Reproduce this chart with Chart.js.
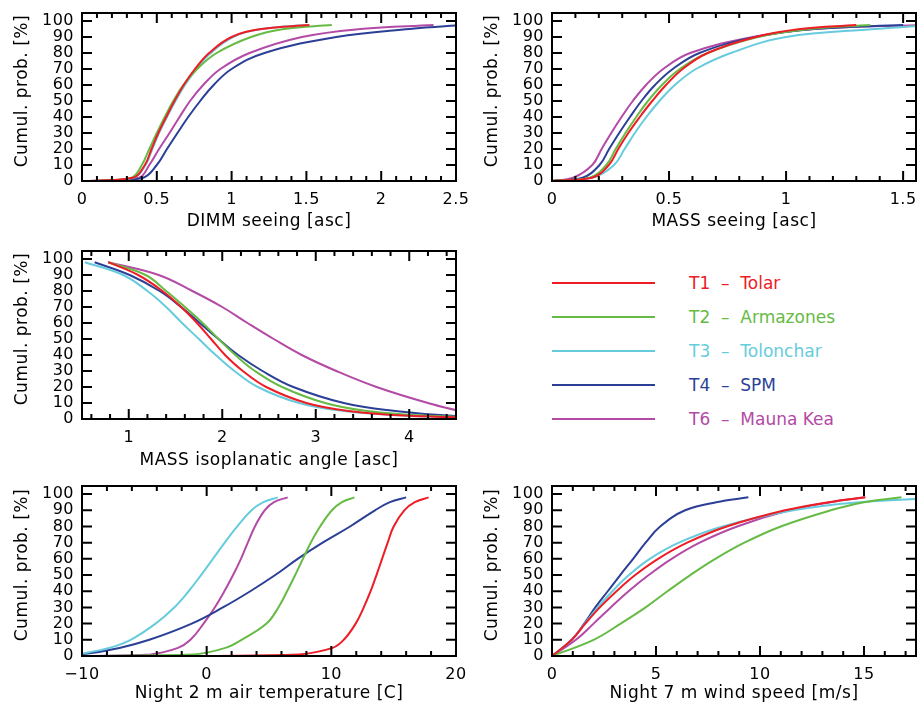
<!DOCTYPE html>
<html>
<head>
<meta charset="utf-8">
<script src="https://cdn.jsdelivr.net/npm/chart.js@4.4.1/dist/chart.umd.min.js"></script>
<style>
html,body{margin:0;padding:0;background:#fff;overflow:hidden;width:917px;height:708px;}
.pane{position:absolute;}
.leg-line{position:absolute;height:2px;}
.leg-text{position:absolute;font-family:"DejaVu Sans";font-size:17px;line-height:20px;white-space:pre;}
</style>
</head>
<body>
<div class="pane" id="p1" style="left:0;top:0;width:470px;height:236px"><canvas id="c1"></canvas></div>
<div class="pane" id="p2" style="left:470px;top:0;width:447px;height:236px"><canvas id="c2"></canvas></div>
<div class="pane" id="p3" style="left:0;top:236px;width:470px;height:236px"><canvas id="c3"></canvas></div>
<div class="pane" id="p5" style="left:0;top:472px;width:470px;height:236px"><canvas id="c5"></canvas></div>
<div class="pane" id="p6" style="left:470px;top:472px;width:447px;height:236px"><canvas id="c6"></canvas></div>
<div id="legend"></div>
<script>
// ---------- sites ----------
const siteLabels = ['T1  \u2013  Tolar', 'T2  \u2013  Armazones', 'T3  \u2013  Tolonchar', 'T4  \u2013  SPM', 'T6  \u2013  Mauna Kea'];
const siteColors = ['#ee1c25', '#66bb44', '#66ccdd', '#2b3f97', '#b34aa5'];

// ---------- y-axis ticks (cumulative probability, %) ----------
const probTicks = [0, 10, 20, 30, 40, 50, 60, 70, 80, 90, 100];

// ---------- Panel 1: DIMM seeing [asc] (x at each cumulative %) ----------
const dimmPct = [0, 2, 10, 20, 30, 40, 50, 60, 70, 80, 90, 95, 97.5];
const dimmT1 = [0.05, 0.34, 0.42, 0.465, 0.51, 0.563, 0.618, 0.68, 0.755, 0.85, 1.0, 1.2, 1.52];
const dimmT2 = [0.10, 0.33, 0.40, 0.45, 0.50, 0.553, 0.61, 0.677, 0.77, 0.90, 1.13, 1.35, 1.67];
const dimmT3 = [0.10, 0.345, 0.425, 0.47, 0.515, 0.568, 0.625, 0.688, 0.765, 0.86, 1.01, 1.2, 1.50];
const dimmT4 = [0.20, 0.41, 0.50, 0.568, 0.638, 0.71, 0.79, 0.88, 1.0, 1.22, 1.70, 2.19, 2.56];
const dimmT6 = [0.08, 0.38, 0.45, 0.515, 0.585, 0.652, 0.722, 0.81, 0.925, 1.12, 1.47, 1.86, 2.35];
const dimmTicks = [0, 0.5, 1, 1.5, 2, 2.5];

// ---------- Panel 2: MASS seeing [asc] ----------
const massPct = [0, 2, 10, 20, 30, 40, 50, 60, 70, 80, 90, 95, 97.5];
const massT1 = [0, 0.17, 0.243, 0.283, 0.326, 0.375, 0.428, 0.487, 0.558, 0.665, 0.87, 1.06, 1.30];
const massT2 = [0, 0.16, 0.232, 0.272, 0.314, 0.36, 0.41, 0.47, 0.546, 0.665, 0.88, 1.10, 1.36];
const massT3 = [0, 0.17, 0.265, 0.31, 0.354, 0.403, 0.459, 0.525, 0.615, 0.764, 1.0, 1.38, 1.62];
const massT4 = [0, 0.13, 0.203, 0.244, 0.287, 0.333, 0.382, 0.44, 0.516, 0.63, 0.87, 1.12, 1.50];
const massT6 = [0, 0.09, 0.172, 0.212, 0.253, 0.297, 0.345, 0.402, 0.475, 0.59, 0.857, 1.12, 1.58];
const massTicks = [0, 0.5, 1, 1.5];

// ---------- Panel 3: MASS isoplanatic angle [asc] ----------
const isoPct = [98, 90, 80, 70, 60, 50, 40, 30, 20, 10, 5, 2, 0.5];
const isoT1 = [0.78, 1.10, 1.36, 1.56, 1.73, 1.88, 2.03, 2.22, 2.47, 2.9, 3.35, 4.0, 5.0];
const isoT2 = [0.78, 1.18, 1.40, 1.60, 1.79, 1.96, 2.14, 2.35, 2.64, 3.1, 3.55, 4.2, 5.2];
const isoT3 = [0.53, 0.94, 1.2, 1.40, 1.57, 1.75, 1.93, 2.13, 2.38, 2.82, 3.3, 4.0, 5.0];
const isoT4 = [0.635, 1.01, 1.33, 1.56, 1.76, 1.96, 2.17, 2.43, 2.76, 3.3, 3.85, 4.45, 5.3];
const isoT6 = [0.78, 1.32, 1.68, 2.0, 2.27, 2.55, 2.85, 3.22, 3.65, 4.2, 4.55, 5.0, 5.6];
const isoTicks = [1, 2, 3, 4];

// ---------- Panel 5: Night 2 m air temperature [C] ----------
const tempPct = [0, 1, 5, 10, 20, 30, 40, 50, 60, 70, 80, 90, 95, 98];
const tempT1 = [-0.5, 7.4, 10.1, 11.0, 11.95, 12.6, 13.15, 13.62, 14.07, 14.52, 15.0, 15.85, 16.7, 17.8];
const tempT2 = [-10, -1, 1.5, 2.8, 4.8, 5.75, 6.45, 7.1, 7.72, 8.35, 9.1, 10.05, 10.85, 11.85];
const tempT3 = [-11, -10.3, -7.8, -6.1, -4.1, -2.6, -1.45, -0.45, 0.5, 1.45, 2.45, 3.6, 4.55, 5.7];
const tempT4 = [-12, -10, -7.0, -4.6, -1.2, 1.3, 3.5, 5.5, 7.3, 9.3, 11.5, 13.5, 14.7, 16.0];
const tempT6 = [-10, -4.5, -2.3, -1.3, -0.25, 0.65, 1.42, 2.12, 2.75, 3.3, 3.87, 4.65, 5.4, 6.5];
const tempTicks = [-10, 0, 10, 20];

// ---------- Panel 6: Night 7 m wind speed [m/s] ----------
const windPct = [0, 10, 20, 30, 40, 50, 60, 70, 80, 90, 95, 98];
const windT1 = [0, 0.95, 1.6, 2.3, 3.1, 4.0, 5.1, 6.5, 8.4, 11.2, 13.3, 15.06];
const windT2 = [0, 2.0, 3.3, 4.5, 5.55, 6.65, 7.85, 9.25, 11.0, 13.4, 15.0, 16.8];
const windT3 = [0, 0.95, 1.58, 2.2, 2.9, 3.7, 4.7, 6.1, 8.2, 11.6, 14.8, 19.5];
const windT4 = [0, 0.95, 1.55, 2.08, 2.68, 3.28, 3.9, 4.5, 5.2, 6.4, 7.9, 9.44];
const windT6 = [0, 1.15, 2.0, 2.82, 3.68, 4.65, 5.75, 7.1, 8.9, 11.4, 13.4, 15.06];
const windTicks = [0, 5, 10, 15];

// ---------- rendering ----------
Chart.defaults.font.family = 'DejaVu Sans';
Chart.defaults.color = '#000';

const frameTicks = {
  id: 'frameTicks',
  beforeDraw(chart) { chart.ctx.letterSpacing = '0.5px'; },
  afterDatasetsDraw(chart, args, opts) {
    const {ctx, chartArea: a, scales: {x, y}} = chart;
    ctx.save();
    ctx.strokeStyle = '#000';
    ctx.lineWidth = 2;
    ctx.beginPath();
    const vx = (px, len) => { ctx.moveTo(px, a.bottom); ctx.lineTo(px, a.bottom - len); ctx.moveTo(px, a.top); ctx.lineTo(px, a.top + len); };
    const hy = (py, len) => { ctx.moveTo(a.left, py); ctx.lineTo(a.left + len, py); ctx.moveTo(a.right, py); ctx.lineTo(a.right - len, py); };
    x.ticks.forEach(t => vx(x.getPixelForValue(t.value), 10));
    const st = opts.xMinor;
    for (let i = Math.ceil(x.min / st - 1e-9); i * st <= x.max + 1e-9; i++) {
      const v = i * st;
      if (x.ticks.some(t => Math.abs(t.value - v) < 1e-9)) continue;
      vx(x.getPixelForValue(v), 5);
    }
    y.ticks.forEach(t => hy(y.getPixelForValue(t.value), 10));
    ctx.stroke();
    ctx.strokeRect(a.left, a.top, a.right - a.left, a.bottom - a.top);
    ctx.restore();
  }
};

function fmt(v) { return v < 0 ? '\u2212' + Math.abs(v) : String(v); }

function makePanel(def) {
  const box = def.box, ar = def.area;
  const datasets = def.series.map((xs, i) => ({
    label: siteLabels[i],
    data: xs.map((xv, j) => ({x: xv, y: def.pct[j]})),
    borderColor: siteColors[i],
    backgroundColor: siteColors[i],
    borderWidth: 2,
    pointRadius: 0,
    fill: false,
    tension: 0.4
  }));
  const xH = box.top + box.h - ar.B;
  const titleLH = 17 * 1.2;
  const titlePadB = (box.top + box.h) - titleLH / 2 - def.titleCenter;
  new Chart(document.getElementById(def.el), {
    type: 'line',
    data: {datasets},
    plugins: [frameTicks],
    options: {
      responsive: true,
      maintainAspectRatio: false,
      animation: false,
      events: [],
      layout: {padding: {left: 0, top: ar.T - box.top, right: box.left + box.w - ar.R, bottom: 0}},
      plugins: {legend: {display: false}, tooltip: {enabled: false}, frameTicks: {xMinor: def.xMinor}},
      scales: {
        x: {
          type: 'linear', min: def.xMin, max: def.xMax,
          grid: {display: false, drawTicks: false, tickLength: 0},
          border: {display: false},
          ticks: {autoSkip: false, maxRotation: 0, padding: 9, font: {size: 16}, callback: fmt},
          title: {display: true, text: def.xTitle, font: {size: 17}, padding: {top: 0, bottom: titlePadB}},
          afterBuildTicks: s => { s.ticks = def.xTicks.map(v => ({value: v})); },
          afterFit: s => { s.height = xH; s.paddingLeft = 0; s.paddingRight = 0; }
        },
        y: {
          type: 'linear', min: 0, max: 105,
          grid: {display: false, drawTicks: false, tickLength: 0},
          border: {display: false},
          ticks: {autoSkip: false, padding: 8, font: {size: 16, lineHeight: 1}, callback: fmt},
          title: {display: true, text: '  Cumul. prob. [%]', font: {size: 17}, padding: {top: 12.5, bottom: 0}},
          afterBuildTicks: s => { s.ticks = probTicks.map(v => ({value: v})); },
          afterFit: s => { s.width = ar.L - box.left; s.paddingTop = 0; s.paddingBottom = 0; }
        }
      }
    }
  });
}

const panelDefs = [
  {el: 'c1', xTitle: 'DIMM seeing [asc]', xMin: 0, xMax: 2.5, xTicks: dimmTicks, xMinor: 0.1, pct: dimmPct,
   series: [dimmT1, dimmT2, dimmT3, dimmT4, dimmT6],
   box: {left: 0, top: 0, w: 470, h: 236}, area: {L: 82, T: 13, R: 456, B: 181}, titleCenter: 221.5},
  {el: 'c2', xTitle: 'MASS seeing [asc]', xMin: 0, xMax: 1.555, xTicks: massTicks, xMinor: 0.1, pct: massPct,
   series: [massT1, massT2, massT3, massT4, massT6],
   box: {left: 470, top: 0, w: 447, h: 236}, area: {L: 552, T: 13, R: 916, B: 181}, titleCenter: 221.5},
  {el: 'c3', xTitle: 'MASS isoplanatic angle [asc]', xMin: 0.5, xMax: 4.5, xTicks: isoTicks, xMinor: 0.2, pct: isoPct,
   series: [isoT1, isoT2, isoT3, isoT4, isoT6],
   box: {left: 0, top: 236, w: 470, h: 236}, area: {L: 82, T: 251, R: 456, B: 419}, titleCenter: 461},
  {el: 'c5', xTitle: 'Night 2 m air temperature [C]', xMin: -10, xMax: 20, xTicks: tempTicks, xMinor: 2, pct: tempPct,
   series: [tempT1, tempT2, tempT3, tempT4, tempT6],
   box: {left: 0, top: 472, w: 470, h: 236}, area: {L: 82, T: 486, R: 456, B: 656}, titleCenter: 694},
  {el: 'c6', xTitle: 'Night 7 m wind speed [m/s]', xMin: 0, xMax: 17.5, xTicks: windTicks, xMinor: 1, pct: windPct,
   series: [windT1, windT2, windT3, windT4, windT6],
   box: {left: 470, top: 472, w: 447, h: 236}, area: {L: 552, T: 486, R: 916, B: 656}, titleCenter: 694}
];
panelDefs.forEach(makePanel);

// ---------- legend ----------
const leg = document.getElementById('legend');
const legRows = [283, 317, 351, 385, 419];
siteLabels.forEach((lab, i) => {
  const ln = document.createElement('div');
  ln.className = 'leg-line';
  ln.style.cssText = 'left:552px;width:103px;top:' + (legRows[i] - 1) + 'px;background:' + siteColors[i];
  leg.appendChild(ln);
  const tx = document.createElement('div');
  tx.className = 'leg-text';
  tx.style.cssText = 'left:689px;top:' + (legRows[i] - 10) + 'px;color:' + siteColors[i];
  tx.textContent = lab;
  leg.appendChild(tx);
});
</script>
</body>
</html>
